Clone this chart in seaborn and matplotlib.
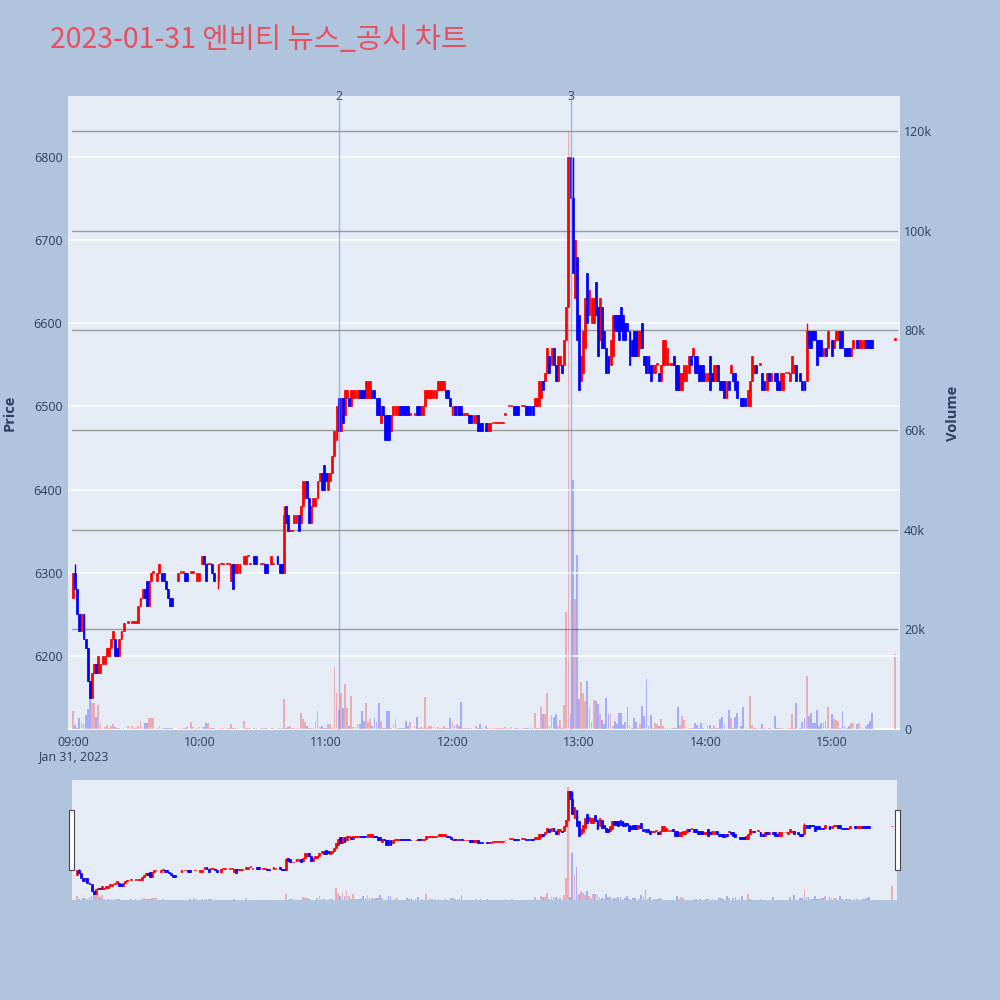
import numpy as np
import pandas as pd
import matplotlib
matplotlib.use("Agg")
import matplotlib.pyplot as plt
from matplotlib.patches import Rectangle
import matplotlib.transforms as mtransforms
import seaborn as sns

sns.set_theme(style="white")
plt.rcParams['font.family'] = ['Open Sans', 'Noto Sans CJK KR', 'DejaVu Sans']

title = "2023-01-31 엔비티 뉴스_공시 차트"
N = None

# one candle per minute from 09:00 (index = minutes after 09:00), None = no trade
opens = [
    6270, 6300, 6280, 6250, 6230, 6250, 6220, 6210, 6170, 6150,
    6180, 6190, 6180, 6180, 6190, 6190, 6200, 6200, 6210, 6220,
    6220, 6210, 6200, 6220, 6230, N, 6240, N, 6240, 6240,
    6240, 6240, 6260, 6270, 6280, 6290, 6260, 6290, 6300, N,
    6290, 6300, 6300, 6300, 6290, 6280, 6270, 6270, N, N,
    6290, 6300, 6300, 6300, 6300, N, 6300, 6300, N, 6290,
    6290, 6310, 6320, 6310, 6310, 6310, 6310, 6300, N, 6290,
    6310, 6310, N, 6310, 6310, 6290, 6310, 6300, 6300, 6300,
    N, 6310, 6310, 6320, 6310, N, 6320, 6320, N, 6310,
    6310, 6310, 6310, N, 6310, 6310, N, 6320, 6310, 6310,
    6300, 6380, 6370, 6350, 6350, 6360, 6360, 6370, 6360, 6380,
    6390, 6410, 6390, 6360, 6380, 6380, 6390, 6410, 6420, 6430,
    6420, 6400, 6410, 6420, 6440, 6460, 6510, 6470, 6510, 6490,
    6510, 6510, 6500, 6510, 6510, 6510, 6520, 6520, 6520, 6510,
    6510, 6510, 6520, 6520, 6510, 6510, 6480, 6500, 6490, 6490,
    6490, 6470, 6490, 6490, 6490, 6500, 6500, 6500, 6500, 6500,
    6490, N, 6490, 6500, 6500, 6490, 6490, 6500, 6510, 6510,
    6510, 6510, 6510, 6520, 6520, 6520, 6520, 6520, 6520, 6510,
    6490, 6500, 6490, 6500, 6500, 6490, 6490, 6490, 6490, 6490,
    6480, 6480, 6490, 6480, 6480, N, 6480, 6470, 6470, 6480,
    6480, 6480, 6480, 6480, 6480, 6490, N, 6500, 6500, 6500,
    6500, 6500, N, 6500, 6500, 6500, 6500, 6500, 6500, 6500,
    6500, 6500, 6510, 6530, 6530, 6540, 6560, 6550, 6570, 6550,
    6530, 6550, 6550, 6550, 6580, 6620, 6800, 6750, 6630, 6680,
    6610, 6530, 6540, 6570, 6660, 6610, 6600, 6600, 6650, 6620,
    6580, 6620, 6590, 6570, 6560, 6550, 6560, 6610, 6610, 6610,
    6620, 6610, 6600, 6600, 6590, 6580, 6590, 6590, 6560, 6570,
    6600, 6560, 6560, 6560, 6550, 6540, 6540, 6550, 6540, 6530,
    6550, 6550, 6550, 6550, 6550, 6560, 6550, 6550, 6520, 6520,
    6530, 6530, 6540, 6560, 6560, 6560, 6560, 6550, 6550, 6550,
    6530, 6530, 6560, 6540, 6530, 6530, 6550, 6530, 6530, 6530,
    6510, 6530, 6540, 6540, 6540, 6530, N, 6510, 6510, 6510,
    6500, 6500, 6530, 6540, 6550, N, 6550, 6540, 6530, 6520,
    6540, 6530, N, 6540, 6540, 6530, 6520, 6520, 6540, 6540,
    6530, 6540, 6540, 6550, N, 6540, 6530, 6530, 6530, 6590,
    6590, 6590, 6590, 6580, 6580, 6580, 6560, 6570, 6570, N,
    6580, 6570, 6580, 6580, 6590, 6590, 6570, 6570, 6570, 6560,
    6570, N, 6580, 6570, 6570, 6570, 6580, 6580, 6580, 6580,
]
closes = [
    6300, 6280, 6250, 6230, 6250, 6220, 6210, 6170, 6150, 6180,
    6190, 6180, 6200, 6190, 6200, 6200, 6210, 6210, 6220, 6230,
    6200, 6200, 6220, 6230, 6240, N, 6240, N, 6240, 6240,
    6240, 6260, 6270, 6280, 6270, 6260, 6290, 6300, 6300, N,
    6300, 6310, 6290, 6290, 6280, 6270, 6260, 6260, N, N,
    6300, 6300, 6300, 6290, 6290, N, 6300, 6300, N, 6300,
    6300, 6320, 6310, 6290, 6310, 6310, 6300, 6290, N, 6310,
    6310, 6310, N, 6310, 6310, 6310, 6280, 6310, 6310, 6310,
    N, 6320, 6320, 6320, 6310, N, 6310, 6310, N, 6310,
    6310, 6300, 6300, N, 6320, 6310, N, 6310, 6300, 6300,
    6370, 6360, 6350, 6350, 6350, 6370, 6370, 6350, 6380, 6410,
    6410, 6390, 6360, 6380, 6390, 6390, 6410, 6420, 6400, 6400,
    6410, 6420, 6420, 6440, 6470, 6500, 6470, 6510, 6480, 6520,
    6520, 6500, 6520, 6520, 6520, 6520, 6510, 6510, 6510, 6530,
    6530, 6530, 6510, 6510, 6490, 6490, 6500, 6490, 6460, 6460,
    6460, 6490, 6500, 6500, 6500, 6490, 6490, 6490, 6490, 6490,
    6490, N, 6490, 6490, 6490, 6500, 6500, 6520, 6520, 6520,
    6520, 6520, 6520, 6530, 6530, 6530, 6530, 6510, 6510, 6500,
    6500, 6490, 6500, 6490, 6490, 6490, 6490, 6490, 6480, 6480,
    6490, 6490, 6470, 6470, 6470, N, 6470, 6480, 6480, 6480,
    6480, 6480, 6480, 6480, 6480, 6490, N, 6500, 6500, 6490,
    6490, 6490, N, 6500, 6500, 6490, 6490, 6490, 6490, 6510,
    6510, 6530, 6530, 6520, 6540, 6570, 6540, 6570, 6550, 6530,
    6560, 6560, 6540, 6580, 6620, 6800, 6750, 6660, 6700, 6580,
    6520, 6560, 6590, 6630, 6600, 6640, 6630, 6630, 6610, 6560,
    6630, 6570, 6570, 6540, 6540, 6580, 6610, 6590, 6590, 6580,
    6590, 6580, 6580, 6590, 6550, 6560, 6560, 6560, 6590, 6590,
    6570, 6550, 6540, 6540, 6530, 6550, 6550, 6550, 6530, 6550,
    6580, 6580, 6570, 6550, 6550, 6550, 6520, 6520, 6540, 6540,
    6550, 6550, 6560, 6550, 6570, 6540, 6540, 6530, 6530, 6530,
    6540, 6540, 6520, 6530, 6550, 6550, 6530, 6520, 6520, 6510,
    6530, 6520, 6550, 6530, 6520, 6510, N, 6500, 6500, 6500,
    6520, 6530, 6560, 6550, 6540, N, 6550, 6520, 6520, 6540,
    6530, 6540, N, 6530, 6520, 6520, 6540, 6540, 6540, 6540,
    6540, 6560, 6550, 6530, N, 6530, 6520, 6520, 6590, 6570,
    6570, 6580, 6580, 6550, 6560, 6560, 6570, 6560, 6590, N,
    6560, 6580, 6590, 6590, 6570, 6570, 6560, 6560, 6560, 6570,
    6580, N, 6570, 6580, 6580, 6580, 6570, 6570, 6570, 6570,
]
volumes = [
    3670, 790, 300, 2130, 1460, 990, 2800, 3940, 8150, 5140,
    5140, 2470, 4800, 1260, 270, 400, 900, 300, 600, 990,
    400, 270, 200, 150, 270, 0, 700, 0, 700, 200,
    150, 700, 1660, 400, 1260, 1260, 2130, 2130, 2130, 0,
    300, 700, 270, 270, 200, 200, 270, 200, 0, 0,
    270, 270, 270, 300, 500, 0, 1460, 400, 0, 300,
    400, 500, 500, 1200, 1200, 200, 150, 200, 0, 270,
    150, 150, 0, 270, 150, 990, 200, 150, 200, 150,
    0, 1600, 200, 150, 150, 0, 200, 200, 0, 150,
    150, 270, 200, 0, 270, 150, 0, 270, 150, 200,
    5950, 270, 400, 600, 200, 300, 270, 300, 3140, 2070,
    1460, 600, 200, 200, 270, 1460, 3540, 400, 600, 270,
    270, 1000, 1100, 200, 12500, 7480, 3800, 7150, 4140, 9020,
    4140, 600, 6610, 400, 400, 1000, 1000, 3670, 1530, 5140,
    1460, 1930, 700, 2130, 1460, 5280, 1530, 300, 300, 3670,
    3540, 200, 1000, 2000, 200, 200, 300, 300, 1600, 600,
    1400, 0, 600, 2470, 200, 400, 300, 6410, 200, 600,
    600, 400, 200, 400, 200, 200, 600, 300, 300, 2200,
    1400, 600, 990, 600, 5410, 150, 150, 150, 300, 150,
    300, 600, 150, 950, 150, 0, 700, 300, 150, 150,
    150, 150, 150, 150, 300, 450, 0, 150, 450, 150,
    150, 150, 0, 150, 150, 150, 150, 300, 150, 3140,
    300, 150, 4470, 3000, 3000, 7150, 600, 2800, 2470, 3000,
    600, 1800, 300, 4740, 23500, 120000, 3000, 50000, 26000, 35000,
    6000, 9490, 7150, 5610, 9690, 4140, 1460, 5810, 5680, 4940,
    3000, 1800, 990, 6140, 3000, 3140, 600, 1600, 1000, 3270,
    3270, 800, 1460, 4340, 800, 300, 2200, 1460, 300, 990,
    4600, 2600, 9960, 600, 2730, 300, 1130, 990, 600, 1930,
    600, 150, 200, 300, 150, 150, 300, 4340, 800, 2600,
    1800, 300, 150, 300, 150, 1130, 800, 150, 1260, 300,
    150, 600, 800, 150, 800, 150, 150, 1930, 2330, 800,
    150, 3800, 2130, 150, 2330, 3270, 0, 600, 4340, 150,
    150, 6610, 800, 150, 150, 0, 150, 990, 300, 150,
    150, 150, 0, 2600, 150, 150, 300, 300, 150, 150,
    150, 3000, 150, 5140, 0, 150, 1460, 2130, 10630, 2600,
    3140, 1130, 1130, 3800, 600, 1130, 1460, 1600, 4340, 0,
    3000, 1930, 1800, 1600, 150, 3540, 600, 150, 600, 1130,
    1130, 0, 990, 1260, 150, 150, 600, 990, 1660, 3270,
]
# closing auction at 15:30
auction_minute = 390
auction_open = 6580
auction_close = 6580
auction_volume = 15040

wick_high = {1: 6310, 100: 6380, 119: 6430, 237: 6800, 348: 6600}
wick_low = {9: 6150, 69: 6280, 240: 6520}

news_labels = ["2", "3"]
news_minutes = [126, 236]

price_ticks = [6200, 6300, 6400, 6500, 6600, 6700, 6800]
volume_ticks = [0, 20000, 40000, 60000, 80000, 100000, 120000]
volume_tick_labels = ["0", "20k", "40k", "60k", "80k", "100k", "120k"]
time_ticks = [0, 60, 120, 180, 240, 300, 360]
time_tick_labels = ["09:00", "10:00", "11:00", "12:00", "13:00", "14:00", "15:00"]
date_label = "Jan 31, 2023"

# ---------------------------------------------------------------
df = pd.DataFrame({
    "minute": list(range(len(opens))) + [auction_minute],
    "open": opens + [auction_open],
    "close": closes + [auction_close],
    "volume": volumes + [auction_volume],
}).astype({"open": float, "close": float})
df["up"] = df["close"] >= df["open"]
trades = df.dropna(subset=["open"]).copy()
trades["high"] = trades[["open", "close"]].max(axis=1)
trades["low"] = trades[["open", "close"]].min(axis=1)
for m, v in wick_high.items():
    trades.loc[trades["minute"] == m, "high"] = v
for m, v in wick_low.items():
    trades.loc[trades["minute"] == m, "low"] = v

RED = "#ff0000"
BLUE = "#0000ff"
BG = "#e5ecf6"
PAGE = "#b0c4de"
TXT = "#2a3f5f"

XLIM = (-2.37, 392.3)
PLIM = (6111, 6873)
VLIM = (-200, 127000)


def draw(ax_p, ax_v, body_w, vol_w, min_h):
    # volume bars
    vcol = np.where(df["up"] | df["open"].isna(), RED, BLUE)
    ax_v.bar(df["minute"], df["volume"], width=vol_w, color=vcol, alpha=0.27,
             linewidth=0, zorder=2)
    # wicks and bodies
    for up, col in ((True, RED), (False, BLUE)):
        sub = trades[trades["up"] == up]
        ax_p.vlines(sub["minute"], sub["low"], sub["high"], color=col, lw=1.0, zorder=3)
        h = np.maximum((sub["close"] - sub["open"]).abs(), min_h)
        ax_p.bar(sub["minute"], h, bottom=sub[["open", "close"]].min(axis=1),
                 width=body_w, color=col, edgecolor=col, linewidth=0.5, zorder=4)
    ax_p.set_xlim(*XLIM)
    ax_p.set_ylim(*PLIM)
    ax_v.set_ylim(*VLIM)


fig = plt.figure(figsize=(10, 10), dpi=100)
fig.patch.set_facecolor(PAGE)

# ---------------- main plot ----------------
ax_v = fig.add_axes([0.068, 0.270, 0.832, 0.634])
ax_v.set_facecolor(BG)
ax_p = ax_v.twinx()
ax_p.patch.set_visible(False)

for y in volume_ticks[1:]:
    ax_v.axhline(y, xmin=0.005, xmax=0.996, color="#9a9a9a", lw=1.0, zorder=1)
ax_v.axhline(0, color="white", lw=2, zorder=1)
for y in price_ticks:
    ax_p.axhline(y, color="white", lw=1.2, zorder=0.5)

draw(ax_p, ax_v, body_w=0.9, vol_w=0.85, min_h=1.6)

# news markers
trans = mtransforms.blended_transform_factory(ax_p.transData, ax_p.transAxes)
for lab, m in zip(news_labels, news_minutes):
    ax_p.axvline(m, color="#6f8cf0", lw=1.0, alpha=0.6, zorder=5)
    ax_p.text(m, 1.0, lab, transform=trans, ha="center", va="center",
              fontsize=9, color="#444444")

# axes styling
ax_p.yaxis.tick_left()
ax_p.yaxis.set_label_position("left")
ax_v.yaxis.tick_right()
ax_v.yaxis.set_label_position("right")
ax_p.set_yticks(price_ticks)
ax_p.set_yticklabels([str(p) for p in price_ticks], fontsize=9, color=TXT)
ax_v.set_yticks(volume_ticks)
ax_v.set_yticklabels(volume_tick_labels, fontsize=9, color=TXT)
ax_v.set_xticks(time_ticks)
ax_v.set_xticklabels(time_tick_labels, fontsize=9, color=TXT)
ax_p.tick_params(axis="y", length=0, pad=4)
ax_v.tick_params(axis="y", length=0, pad=3)
ax_v.tick_params(axis="x", length=0, pad=4)
ax_p.tick_params(axis="x", length=0)
for a in (ax_p, ax_v):
    for s in a.spines.values():
        s.set_visible(False)
    a.grid(False)

fig.text(0.073, 0.243, date_label, ha="center", va="center", fontsize=9, color=TXT)
fig.text(0.010, 0.587, "Price", rotation=90, ha="center", va="center",
         fontsize=10.5, fontweight="bold", color=TXT)
fig.text(0.953, 0.587, "Volume", rotation=90, ha="center", va="center",
         fontsize=10.5, fontweight="bold", color=TXT)

fig.text(0.050, 0.960, title, ha="left", va="center", fontsize=20.5,
         color="#e8505f", family=["Noto Sans CJK KR", "DejaVu Sans"])

# ---------------- range slider ----------------
rs_v = fig.add_axes([0.072, 0.100, 0.825, 0.120])
rs_v.set_facecolor(BG)
rs_p = rs_v.twinx()
rs_p.patch.set_visible(False)
draw(rs_p, rs_v, body_w=0.9, vol_w=0.85, min_h=4)
for a in (rs_p, rs_v):
    a.set_xticks([])
    a.set_yticks([])
    for s in a.spines.values():
        s.set_visible(False)
    a.grid(False)

for x0 in (0.069, 0.895):
    fig.patches.append(Rectangle((x0, 0.130), 0.0045, 0.060, transform=fig.transFigure,
                                 facecolor="white", edgecolor="#444444", lw=0.8,
                                 figure=fig, zorder=10))

fig.savefig("out.png", dpi=100, facecolor=PAGE)
